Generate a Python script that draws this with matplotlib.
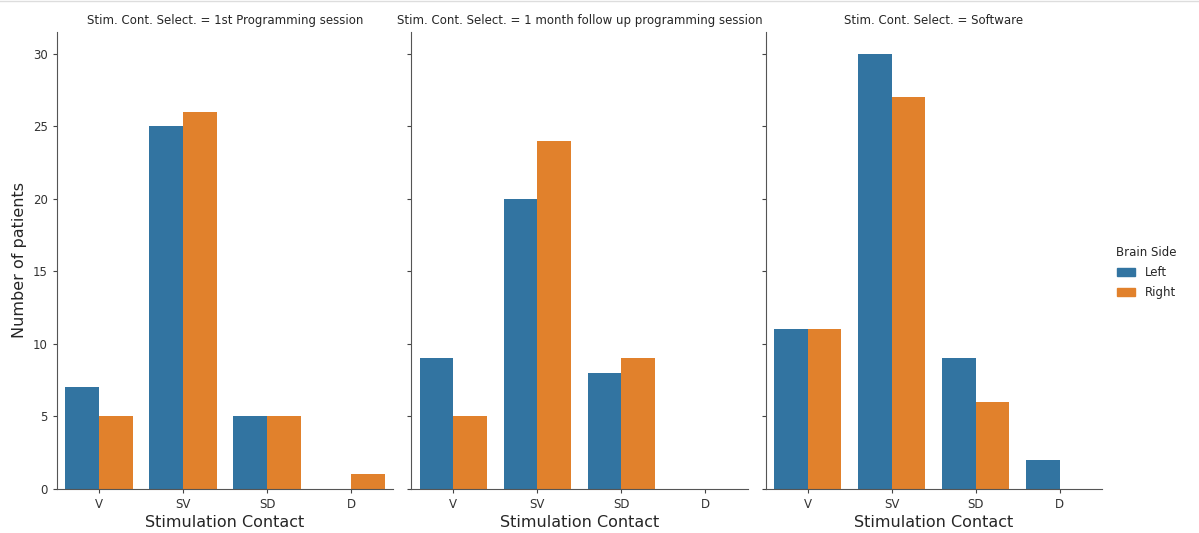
import numpy as np
import matplotlib.pyplot as plt
from matplotlib.patches import Patch

contacts = ['V', 'SV', 'SD', 'D']
sessions = ['1st Programming session', '1 month follow up programming session', 'Software']
left_counts = [[7, 25, 5, 0], [9, 20, 8, 0], [11, 30, 9, 2]]
right_counts = [[5, 26, 5, 1], [5, 24, 9, 0], [11, 27, 6, 0]]
sides = ['Left', 'Right']
colors = ['#3274a1', '#e1812c']

plt.rcParams['text.color'] = '#262626'
plt.rcParams['axes.labelcolor'] = '#262626'

fig, axes = plt.subplots(1, 3, figsize=(11.99, 5.33), dpi=100, sharey=True)
fig.subplots_adjust(left=0.0475, right=0.919, bottom=0.083, top=0.94, wspace=0.054)

x = np.arange(len(contacts))
w = 0.4
for ax, sess, lc, rc in zip(axes, sessions, left_counts, right_counts):
    ax.bar(x - w / 2, lc, w, color=colors[0])
    ax.bar(x + w / 2, rc, w, color=colors[1])
    ax.set_xticks(x)
    ax.set_xticklabels(contacts)
    ax.set_xlim(-0.5, 3.5)
    ax.set_ylim(0, 31.5)
    ax.set_yticks([0, 5, 10, 15, 20, 25, 30])
    ax.set_title('Stim. Cont. Select. = ' + sess, fontsize=8.5)
    ax.set_xlabel('Stimulation Contact', fontsize=11.5, labelpad=3)
    ax.tick_params(labelsize=8.5, color='#444444', labelcolor='#333333', length=3)
    for s in ['top', 'right']:
        ax.spines[s].set_visible(False)
    for s in ['left', 'bottom']:
        ax.spines[s].set_color('#555555')

axes[0].set_ylabel('Number of patients', fontsize=11.5)

handles = [Patch(color=c, label=s) for c, s in zip(colors, sides)]
fig.legend(handles=handles, title='Brain Side', loc='center left',
           bbox_to_anchor=(0.922, 0.488), frameon=False, fontsize=8.5,
           title_fontsize=8.5, handlelength=1.6, labelspacing=0.6)

fig.add_artist(plt.Line2D([0, 1], [0.998, 0.998], color='#dddddd', lw=1))

fig.savefig('out.png')
